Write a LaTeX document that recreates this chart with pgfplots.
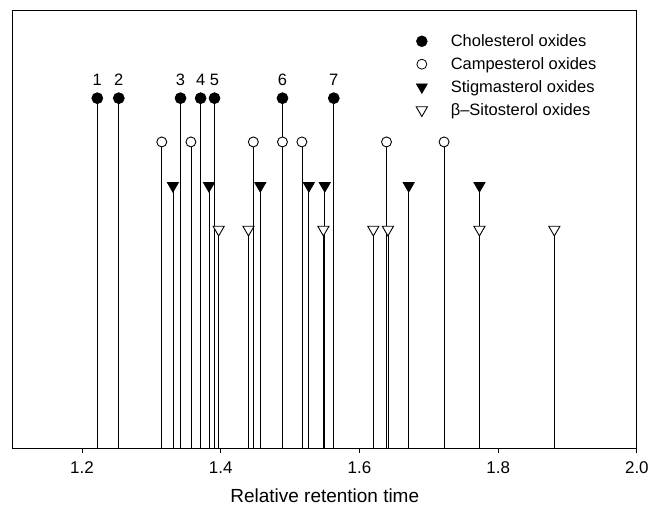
\documentclass[border=0pt]{standalone}
\usepackage{fontspec}
\setmainfont{Liberation Sans}
\usepackage{pgfplots}
\pgfplotsset{compat=1.18}

\begin{document}
\begin{tikzpicture}
  \begin{axis}[
      scale only axis,
      width=625.3pt, height=438.3pt,
      xmin=1.1, xmax=2.0, ymin=0, ymax=10,
      xtick={1.2,1.4,1.6,1.8,2.0},
      xticklabel style={yshift=-5pt, /pgf/number format/.cd, fixed, fixed zerofill, precision=1},
      /pgf/number format/assume math mode=true,
      ytick=\empty,
      xtick pos=bottom, tick align=outside,
      major tick length=5pt,
      axis line style={line width=0.9pt},
      every tick/.style={black, line width=0.9pt},
      tick label style={font=\fontsize{17}{20}\selectfont},
      xlabel={Relative retention time},
      xlabel style={font=\fontsize{19}{22}\selectfont, yshift=-8pt},
      clip=false,
      legend cell align=left,
      legend image code/.code={%
        \path[draw=none, fill=none] (0pt,-6pt) rectangle (36pt,6pt);
        \draw[#1, mark repeat=1] plot coordinates {(9pt,0pt)};},
      legend style={draw=none, fill=none, at={(0.636,0.955)}, anchor=north west,
                    font=\fontsize{16.5}{19}\selectfont, row sep=5.5pt},
    ]
    % legend images only
    \addlegendimage{only marks, mark=*, mark size=5.5pt, black}
    \addlegendentry{Cholesterol oxides}
    \addlegendimage{only marks, mark=o, mark size=5pt, black, thick}
    \addlegendentry{Campesterol oxides}
    \addlegendimage{only marks, mark=triangle*, mark size=6.5pt, black, mark options={rotate=180}}
    \addlegendentry{Stigmasterol oxides}
    \addlegendimage{only marks, mark=triangle*, mark size=6.5pt, black, mark options={rotate=180, fill=white, line width=0.9pt}}
    \addlegendentry{β–Sitosterol oxides}

    % beta-sitosterol oxides
    \addplot[forget plot, ycomb, black, line width=0.7pt, mark=triangle*, mark size=6.5pt,
             mark options={rotate=180, fill=white, line width=0.9pt}] coordinates {
      (1.397,5) (1.440,5) (1.548,5) (1.620,5) (1.641,5) (1.773,5) (1.881,5)
    };
    % stigmasterol oxides
    \addplot[forget plot, ycomb, black, line width=0.7pt, mark=triangle*, mark size=6.5pt,
             mark options={rotate=180}] coordinates {
      (1.331,6) (1.383,6) (1.457,6) (1.527,6) (1.550,6) (1.671,6) (1.773,6)
    };
    % campesterol oxides
    \addplot[forget plot, ycomb, black, line width=0.7pt, mark=*, mark size=5pt,
             mark options={fill=white, line width=0.9pt}] coordinates {
      (1.315,7) (1.357,7) (1.447,7) (1.489,7) (1.517,7) (1.639,7) (1.722,7)
    };
    % cholesterol oxides
    \addplot[forget plot, ycomb, black, line width=0.7pt, mark=*, mark size=5.5pt,
             nodes near coords, point meta=explicit symbolic,
             every node near coord/.append style={font=\fontsize{16.5}{19}\selectfont, yshift=9pt}]
      coordinates {
      (1.222,8) [1] (1.253,8) [2] (1.342,8) [3] (1.371,8) [4]
      (1.391,8) [5] (1.489,8) [6] (1.563,8) [7]
    };
  \end{axis}
  \path ([xshift=-12.7pt,yshift=-64pt]current axis.south west)
        rectangle ([xshift=13.7pt,yshift=10.7pt]current axis.north east);
\end{tikzpicture}
\end{document}
